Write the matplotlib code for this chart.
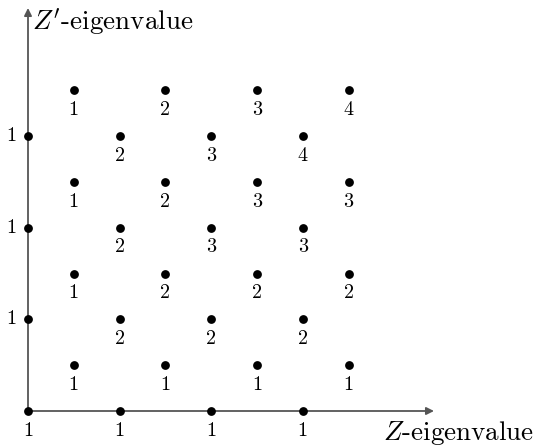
import matplotlib
matplotlib.use("Agg")
import matplotlib.pyplot as plt

plt.rcParams["mathtext.fontset"] = "cm"
plt.rcParams["font.family"] = "cmr10"
plt.rcParams["axes.unicode_minus"] = False

# lattice points (in half-steps) and their multiplicities
pt_x = [0, 2, 4, 6,
        1, 3, 5, 7,
        0, 2, 4, 6,
        1, 3, 5, 7,
        0, 2, 4, 6,
        1, 3, 5, 7,
        0, 2, 4, 6,
        1, 3, 5, 7]
pt_y = [0, 0, 0, 0,
        1, 1, 1, 1,
        2, 2, 2, 2,
        3, 3, 3, 3,
        4, 4, 4, 4,
        5, 5, 5, 5,
        6, 6, 6, 6,
        7, 7, 7, 7]
mult = ["1", "1", "1", "1",
        "1", "1", "1", "1",
        "1", "2", "2", "2",
        "1", "2", "2", "2",
        "1", "2", "3", "3",
        "1", "2", "3", "3",
        "1", "2", "3", "4",
        "1", "2", "3", "4"]

x_label = r"$Z$-eigenvalue"
y_label = r"$Z'$-eigenvalue"

u = 45.8  # pixels per unit
fig = plt.figure(figsize=(5.34, 4.46), dpi=100)
ax = fig.add_axes([0, 0, 1, 1])
ax.set_xlim(-28 / u, (534 - 28) / u)
ax.set_ylim((411 - 446) / u, 411 / u)
ax.axis("off")

ax.annotate("", xy=((434 - 28) / u, 0), xytext=(0, 0),
            arrowprops=dict(arrowstyle="-|>", color="#555555", lw=1.3,
                            shrinkA=0, shrinkB=0, mutation_scale=11))
ax.annotate("", xy=(0, (411 - 8) / u), xytext=(0, 0),
            arrowprops=dict(arrowstyle="-|>", color="#555555", lw=1.3,
                            shrinkA=0, shrinkB=0, mutation_scale=11))

ax.scatter(pt_x, pt_y, s=40, color="black", zorder=3, linewidths=0)

for x, y, m in zip(pt_x, pt_y, mult):
    if x == 0 and y > 0:
        ax.text(x - 0.36, y, m, ha="center", va="center", fontsize=14.5)
    else:
        ax.text(x, y - 0.43, m, ha="center", va="center", fontsize=14.5)

ax.text((534 - 28) / u, -0.47, x_label, ha="right", va="center", fontsize=19.5)
ax.text(4 / u, (411 - 22) / u, y_label, ha="left", va="center", fontsize=19.5)

fig.savefig("out.png", dpi=100)
